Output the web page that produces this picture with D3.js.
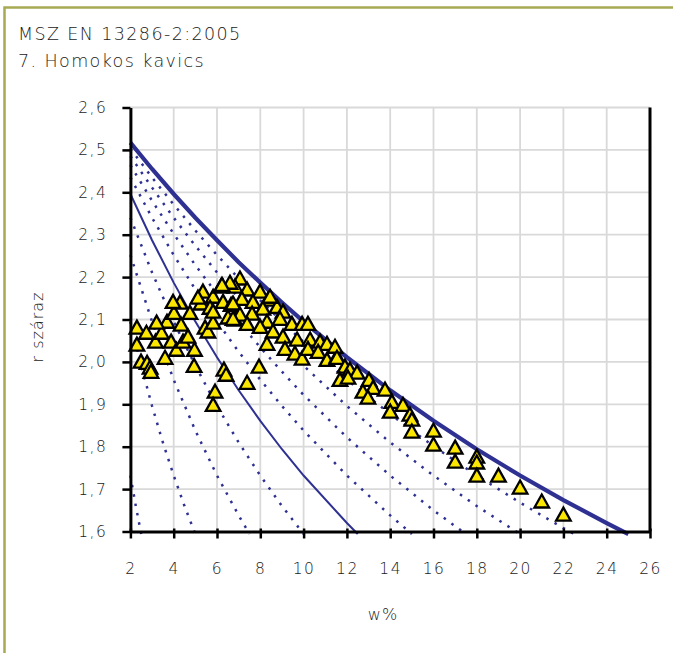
<!DOCTYPE html>
<html>
<head>
<meta charset="utf-8">
<script src="https://cdn.jsdelivr.net/npm/d3@7/dist/d3.min.js"></script>
<style>
  body { margin: 0; background: #fff; }
  text { font-family: "DejaVu Sans", sans-serif; font-weight: 200; fill: #1a1a1a; }
</style>
</head>
<body>
<div class="chart"></div>
<script>
var svgWidth = 673;
var svgHeight = 653;
var margin = { top: 107.5, right: 23, bottom: 121.5, left: 130.4 };
var width = svgWidth - margin.left - margin.right;
var height = svgHeight - margin.top - margin.bottom;

// tick values
var xTicks = [2, 4, 6, 8, 10, 12, 14, 16, 18, 20, 22, 24, 26];
var yTicks = [1.6, 1.7, 1.8, 1.9, 2.0, 2.1, 2.2, 2.3, 2.4, 2.5, 2.6];

// saturation lines (w %, dry density)
var srW100 = [2, 3, 4, 5, 6, 7, 8, 9, 10, 12, 14, 16, 18, 20, 22, 24, 25];
var srRho100 = [2.517, 2.455, 2.396, 2.340, 2.287, 2.235, 2.187, 2.140, 2.095, 2.011, 1.933, 1.861, 1.794, 1.732, 1.674, 1.620, 1.594];
var srW90 = [2, 3, 4, 5, 6, 7, 8, 9, 10, 12, 14, 16, 18, 20, 22, 22.5];
var srRho90 = [2.503, 2.435, 2.371, 2.310, 2.252, 2.197, 2.145, 2.095, 2.047, 1.958, 1.877, 1.801, 1.732, 1.668, 1.608, 1.594];
var srW80 = [2, 3, 4, 5, 6, 7, 8, 9, 10, 12, 14, 16, 18, 20];
var srRho80 = [2.485, 2.411, 2.340, 2.274, 2.211, 2.151, 2.095, 2.041, 1.991, 1.896, 1.810, 1.732, 1.660, 1.594];
var srW70 = [2, 3, 4, 5, 6, 7, 8, 9, 10, 12, 14, 16, 17.5];
var srRho70 = [2.464, 2.380, 2.302, 2.228, 2.160, 2.095, 2.034, 1.977, 1.922, 1.822, 1.732, 1.650, 1.594];
var srW60 = [2, 3, 4, 5, 6, 7, 8, 9, 10, 12, 14, 15];
var srRho60 = [2.435, 2.340, 2.252, 2.171, 2.095, 2.024, 1.958, 1.896, 1.838, 1.732, 1.638, 1.594];
var srW50 = [2, 3, 4, 5, 6, 7, 8, 9, 10, 12, 12.5];
var srRho50 = [2.396, 2.287, 2.187, 2.095, 2.011, 1.933, 1.861, 1.794, 1.732, 1.620, 1.594];
var srW40 = [2, 3, 4, 5, 6, 7, 8, 9, 10];
var srRho40 = [2.340, 2.211, 2.095, 1.991, 1.896, 1.810, 1.732, 1.660, 1.594];
var srW30 = [2, 3, 4, 5, 6, 7, 7.5];
var srRho30 = [2.252, 2.095, 1.958, 1.838, 1.732, 1.638, 1.594];
var srW20 = [2, 2.5, 3, 3.5, 4, 4.5, 5];
var srRho20 = [2.095, 1.991, 1.896, 1.810, 1.732, 1.660, 1.594];
var srW10 = [2, 2.25, 2.5];
var srRho10 = [1.732, 1.660, 1.594];

// measured samples
var testW = [2.30, 2.30, 2.74, 3.16, 2.49, 2.77, 2.91, 2.95, 3.60, 3.44, 3.69, 4.01, 3.88, 4.13, 4.34, 4.43, 4.66, 4.96,
  4.29, 3.97, 4.75, 5.26, 5.35, 5.82, 5.45, 5.58, 5.82, 6.18, 6.28, 6.65, 6.51, 6.83, 4.94, 6.32, 6.42, 5.91, 5.82,
  7.39, 7.94, 5.68, 5.82, 5.12, 3.21,
  7.06, 6.83, 7.39, 7.99, 7.15, 7.66, 8.36, 6.74, 8.12, 8.77, 9.05, 7.62, 7.06, 6.74, 8.31, 8.91, 9.46, 9.93, 10.20,
  7.39, 7.99, 8.59, 9.05, 9.70, 10.30, 10.76, 11.08, 8.31, 9.14, 9.60, 9.93, 10.20, 10.67, 11.08, 11.54, 6.60, 6.23, 8.45,
  11.45, 11.54, 11.91, 12.14, 12.47, 11.68, 12.05, 13.02, 13.21, 12.74, 12.97, 13.76, 14.08, 14.0, 14.59, 14.91, 15.0, 15.0,
  16, 16, 17, 17, 18, 18, 18, 19, 20, 21, 22];
var testRho = [2.080, 2.040, 2.068, 2.047, 2.000, 1.997, 1.986, 1.976, 2.009, 2.068, 2.094, 2.115, 2.047, 2.028, 2.087, 2.047, 2.059, 2.028,
  2.139, 2.141, 2.115, 2.137, 2.165, 2.153, 2.080, 2.071, 2.092, 2.177, 2.141, 2.134, 2.104, 2.099, 1.990, 1.981, 1.969, 1.929, 1.898,
  1.950, 1.988, 2.127, 2.118, 2.151, 2.092,
  2.196, 2.177, 2.170, 2.165, 2.148, 2.141, 2.146, 2.137, 2.125, 2.129, 2.118, 2.113, 2.111, 2.101, 2.094, 2.101, 2.089, 2.089, 2.089,
  2.089, 2.082, 2.071, 2.059, 2.052, 2.052, 2.047, 2.042, 2.042, 2.030, 2.019, 2.007, 2.030, 2.023, 2.004, 2.012, 2.186, 2.181, 2.153,
  2.035, 2.009, 1.988, 1.981, 1.974, 1.957, 1.962, 1.957, 1.938, 1.929, 1.915, 1.934, 1.905, 1.882, 1.898, 1.875, 1.863, 1.835,
  1.837, 1.804, 1.797, 1.764, 1.776, 1.762, 1.731, 1.731, 1.703, 1.670, 1.639];

var lineColor = "#2e3192";

var svg = d3.select(".chart")
  .append("svg")
  .attr("width", svgWidth)
  .attr("height", svgHeight);

// olive frame (only top and left edges fall inside the picture)
svg.append("rect")
  .attr("x", 4.5)
  .attr("y", 7.5)
  .attr("width", 800)
  .attr("height", 800)
  .attr("fill", "none")
  .attr("stroke", "#a7aa52")
  .attr("stroke-width", 2.5);

svg.append("text")
  .attr("x", 18)
  .attr("y", 39.5)
  .style("font-size", "17.5px")
  .style("letter-spacing", "1.4px")
  .text("MSZ EN 13286-2:2005");

svg.append("text")
  .attr("x", 18)
  .attr("y", 66.5)
  .style("font-size", "17.5px")
  .style("letter-spacing", "1.4px")
  .text("7. Homokos kavics");

var chartGroup = svg.append("g")
  .attr("transform", `translate(${margin.left}, ${margin.top})`);

var xLinearScale = d3.scaleLinear().domain([2, 26]).range([0, width]);
var yLinearScale = d3.scaleLinear().domain([1.6, 2.6]).range([height, 0]);

// grid
chartGroup.append("g")
  .selectAll("line")
  .data(xTicks.slice(1, -1))
  .enter()
  .append("line")
  .attr("x1", d => xLinearScale(d))
  .attr("x2", d => xLinearScale(d))
  .attr("y1", 0)
  .attr("y2", height)
  .attr("stroke", "#d9d9d9")
  .attr("stroke-width", 1.8);

chartGroup.append("g")
  .selectAll("line")
  .data(yTicks.slice(1))
  .enter()
  .append("line")
  .attr("x1", 0)
  .attr("x2", width)
  .attr("y1", d => yLinearScale(d))
  .attr("y2", d => yLinearScale(d))
  .attr("stroke", "#d9d9d9")
  .attr("stroke-width", 1.8);

// saturation curves
var line = d3.line()
  .x(d => xLinearScale(d[0]))
  .y(d => yLinearScale(d[1]));

function drawCurve(ws, rhos, strokeWidth, dash) {
  chartGroup.append("path")
    .datum(d3.zip(ws, rhos))
    .attr("d", line)
    .attr("fill", "none")
    .attr("stroke", lineColor)
    .attr("stroke-width", strokeWidth)
    .attr("stroke-dasharray", dash);
}

var dotted = "2.5,7";
drawCurve(srW10, srRho10, 2.5, dotted);
drawCurve(srW20, srRho20, 2.5, dotted);
drawCurve(srW30, srRho30, 2.5, dotted);
drawCurve(srW40, srRho40, 2.5, dotted);
drawCurve(srW60, srRho60, 2.5, dotted);
drawCurve(srW70, srRho70, 2.5, dotted);
drawCurve(srW80, srRho80, 2.5, dotted);
drawCurve(srW90, srRho90, 2.5, dotted);
drawCurve(srW50, srRho50, 2, null);
drawCurve(srW100, srRho100, 4.2, null);

// samples
var tri = "M0,-7.3L7.3,5.7L-7.3,5.7Z";
chartGroup.append("g")
  .selectAll("path")
  .data(d3.zip(testW, testRho))
  .enter()
  .append("path")
  .attr("d", tri)
  .attr("transform", d => `translate(${xLinearScale(d[0])}, ${yLinearScale(d[1])})`)
  .attr("fill", "#fae600")
  .attr("stroke", "#000")
  .attr("stroke-width", 2.3);

// axes
var leftAxis = d3.axisLeft(yLinearScale)
  .tickValues(yTicks)
  .tickFormat(d => d3.format(".1f")(d).replace(".", ","))
  .tickSizeInner(8)
  .tickSizeOuter(0)
  .tickPadding(15);

var bottomAxis = d3.axisBottom(xLinearScale)
  .tickValues(xTicks)
  .tickSizeInner(7)
  .tickSizeOuter(0)
  .tickPadding(24);

var yAxis = chartGroup.append("g").call(leftAxis);
var xAxis = chartGroup.append("g")
  .attr("transform", `translate(0, ${height})`)
  .call(bottomAxis);

xAxis.selectAll(".tick line").attr("y1", -3);

[yAxis, xAxis].forEach(function(ax) {
  ax.select(".domain").attr("stroke", "#000").attr("stroke-width", 3);
  ax.selectAll(".tick line").attr("stroke", "#000").attr("stroke-width", 2.5);
  ax.selectAll("text")
    .style("font-size", "15.5px")
    .style("letter-spacing", "1.5px")
    .style("font-family", "DejaVu Sans, sans-serif")
    .style("font-weight", 200)
    .attr("fill", "#1a1a1a");
});

// right border of plot area
chartGroup.append("line")
  .attr("x1", width)
  .attr("x2", width)
  .attr("y1", 0)
  .attr("y2", height)
  .attr("stroke", "#000")
  .attr("stroke-width", 3);

// axis titles
svg.append("text")
  .attr("transform", "translate(43, 327) rotate(-90)")
  .attr("text-anchor", "middle")
  .style("font-size", "16px")
  .style("letter-spacing", "1px")
  .text("r száraz");

svg.append("text")
  .attr("x", 383)
  .attr("y", 620)
  .attr("text-anchor", "middle")
  .style("font-size", "16px")
  .style("letter-spacing", "1px")
  .text("w%");
</script>
</body>
</html>
